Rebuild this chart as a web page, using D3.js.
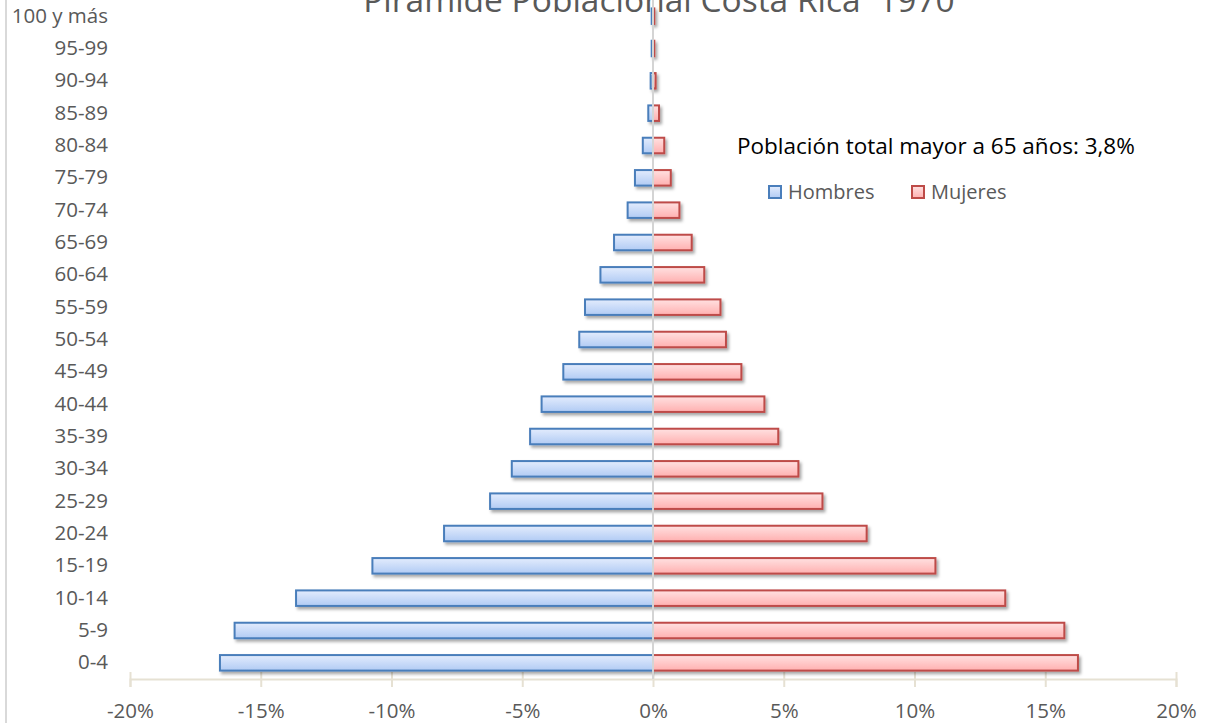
<!DOCTYPE html>
<html>
<head>
<meta charset="utf-8">
<script src="https://cdn.jsdelivr.net/npm/d3@7/dist/d3.min.js"></script>
<style>
  html, body { margin: 0; padding: 0; background: #ffffff; }
  svg { display: block; font-family: "Open Sans", "Noto Sans", sans-serif; }
</style>
</head>
<body>
<svg id="chart" width="1205" height="723"></svg>
<script>
// Age groups, youngest first
const ageGroups = ["0-4", "5-9", "10-14", "15-19", "20-24", "25-29", "30-34", "35-39",
  "40-44", "45-49", "50-54", "55-59", "60-64", "65-69", "70-74", "75-79",
  "80-84", "85-89", "90-94", "95-99", "100 y más"];

// Share of each sex's population (%) per age group
const hombres = [16.56, 16.0, 13.65, 10.73, 7.99, 6.23, 5.40, 4.70, 4.26, 3.43,
  2.82, 2.60, 2.01, 1.49, 0.97, 0.69, 0.39, 0.18, 0.09, 0.05, 0.05];
const mujeres = [16.25, 15.73, 13.47, 10.80, 8.17, 6.48, 5.56, 4.79, 4.26, 3.38,
  2.79, 2.58, 1.96, 1.48, 1.01, 0.68, 0.43, 0.23, 0.10, 0.05, 0.05];

const xTicks = [-20, -15, -10, -5, 0, 5, 10, 15, 20];
const seriesNames = ["Hombres", "Mujeres"];
const titleText = "Pirámide Poblacional Costa Rica  1970";
const noteText = "Población total mayor a 65 años: 3,8%";

const svg = d3.select("#chart");
const W = 1205, H = 723;
const plot = { left: 130, right: 1176, top: 0, bottom: 679 };

const x = d3.scaleLinear().domain([-20, 20]).range([plot.left, plot.right]);
const y = d3.scaleBand().domain(ageGroups).range([plot.bottom, plot.top])
  .paddingInner(0.52).paddingOuter(0.26);

// Gradients and shadow
const defs = svg.append("defs");
const gradM = defs.append("linearGradient").attr("id", "gradM")
  .attr("x1", 0).attr("y1", 0).attr("x2", 0).attr("y2", 1);
gradM.append("stop").attr("offset", "0%").attr("stop-color", "#e3ecfd");
gradM.append("stop").attr("offset", "100%").attr("stop-color", "#b1cbf4");
const gradF = defs.append("linearGradient").attr("id", "gradF")
  .attr("x1", 0).attr("y1", 0).attr("x2", 0).attr("y2", 1);
gradF.append("stop").attr("offset", "0%").attr("stop-color", "#ffe1e1");
gradF.append("stop").attr("offset", "100%").attr("stop-color", "#ffb0b0");
const shadow = defs.append("filter").attr("id", "shadow")
  .attr("x", "-20%").attr("y", "-60%").attr("width", "140%").attr("height", "260%");
shadow.append("feDropShadow").attr("dx", 2).attr("dy", 2.5).attr("stdDeviation", 1.8)
  .attr("flood-color", "#000").attr("flood-opacity", 0.35);

// Outer chart border (left edge visible)
svg.append("line")
  .attr("x1", 6).attr("x2", 6).attr("y1", 0).attr("y2", H)
  .attr("stroke", "#d9d9d9").attr("stroke-width", 2);

// Title
svg.append("text")
  .attr("x", 659).attr("y", 12)
  .attr("text-anchor", "middle")
  .style("white-space", "pre")
  .attr("font-size", 33.5).attr("fill", "#595959")
  .text(titleText);

// X axis
const xAxis = svg.append("g")
  .attr("transform", `translate(0,${plot.bottom})`)
  .call(d3.axisBottom(x).tickValues(xTicks).tickSize(8).tickPadding(16)
    .tickFormat(d => (d < 0 ? "-" + Math.abs(d) : d) + "%"));
xAxis.select(".domain").attr("stroke", "#e6e1d3").attr("stroke-width", 2);
xAxis.selectAll(".tick line").attr("stroke", "#e6e1d3").attr("stroke-width", 2).attr("y1", -7);
xAxis.selectAll(".tick text").attr("font-size", 20.5).attr("fill", "#595959")
  .attr("font-family", "Open Sans, sans-serif");

// Y axis labels
const yAxis = svg.append("g")
  .attr("transform", `translate(108,0)`)
  .call(d3.axisLeft(y).tickSize(0).tickPadding(0));
yAxis.select(".domain").remove();
yAxis.selectAll(".tick text").attr("font-size", 20.5).attr("fill", "#595959")
  .attr("font-family", "Open Sans, sans-serif");

// Bars
const bars = svg.append("g").attr("filter", "url(#shadow)");
bars.selectAll("rect.m").data(ageGroups).join("rect").attr("class", "m")
  .attr("x", (d, i) => x(-hombres[i]))
  .attr("width", (d, i) => x(0) - x(-hombres[i]))
  .attr("y", d => y(d))
  .attr("height", y.bandwidth())
  .attr("fill", "url(#gradM)").attr("stroke", "#4a7ebb").attr("stroke-width", 2);
bars.selectAll("rect.f").data(ageGroups).join("rect").attr("class", "f")
  .attr("x", x(0))
  .attr("width", (d, i) => x(mujeres[i]) - x(0))
  .attr("y", d => y(d))
  .attr("height", y.bandwidth())
  .attr("fill", "url(#gradF)").attr("stroke", "#be4b48").attr("stroke-width", 2);

// Vertical zero line
svg.append("line")
  .attr("x1", x(0)).attr("x2", x(0)).attr("y1", plot.top).attr("y2", plot.bottom)
  .attr("stroke", "#d4d4d4").attr("stroke-width", 2);

// Note
svg.append("text")
  .attr("x", 737).attr("y", 154)
  .attr("font-size", 22.5).attr("fill", "#000")
  .text(noteText);

// Legend
const legend = svg.append("g");
const legendX = [769, 912];
const legendFill = ["url(#gradM)", "url(#gradF)"];
const legendStroke = ["#4a7ebb", "#be4b48"];
seriesNames.forEach((name, i) => {
  legend.append("rect")
    .attr("x", legendX[i]).attr("y", 186).attr("width", 12).attr("height", 12)
    .attr("fill", legendFill[i]).attr("stroke", legendStroke[i]).attr("stroke-width", 2);
  legend.append("text")
    .attr("x", legendX[i] + 19).attr("y", 199)
    .attr("font-size", 20).attr("fill", "#595959")
    .text(name);
});
</script>
</body>
</html>
